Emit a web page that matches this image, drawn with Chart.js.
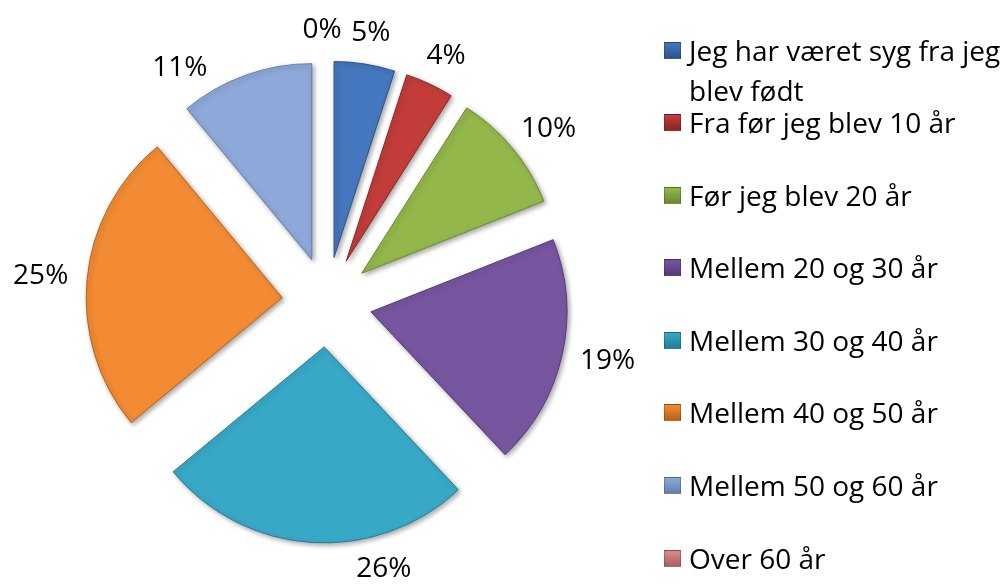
<!DOCTYPE html>
<html>
<head>
<meta charset="utf-8">
<script src="https://cdn.jsdelivr.net/npm/chart.js@4.4.1/dist/chart.umd.min.js"></script>
<style>
  html, body { margin: 0; padding: 0; background: #fff; }
  #wrap { position: relative; width: 1006px; height: 586px; overflow: hidden; }
  #pie { position: absolute; left: 0; top: 0; }
  #legend { position: absolute; left: 0; top: 0; font-family: "Open Sans", sans-serif; font-size: 28px; color: #000; }
  .item { position: absolute; left: 664px; width: 342px; display: flex; align-items: flex-start; line-height: 40px; }
  .box { flex: 0 0 17px; width: 17px; height: 17px; margin-top: 12px; margin-right: 8px; box-sizing: border-box; border: 1px solid rgba(0,0,0,0.2); }
  .txt { width: 316px; }
</style>
</head>
<body>
<div id="wrap">
  <canvas id="pie" width="1006" height="586"></canvas>
  <div id="legend"></div>
</div>
<script>
// data
const categories = [
  "Jeg har været syg fra jeg blev født",
  "Fra før jeg blev 10 år",
  "Før jeg blev 20 år",
  "Mellem 20 og 30 år",
  "Mellem 30 og 40 år",
  "Mellem 40 og 50 år",
  "Mellem 50 og 60 år",
  "Over 60 år"
];
const percents = [5, 4, 10, 19, 26, 25, 11, 0];

// farver (Excel 2007 look)
const fillColors = ["#4477bd", "#c23d3a", "#93b74b", "#7756a0", "#38a8c7", "#f28b33", "#8ea9d9", "#d98b8b"];
const edgeColors = ["#2d5489", "#8a2624", "#6a8a2e", "#553a7a", "#237d97", "#b86217", "#6480b0", "#a85f5f"];

// flytter et par etiketter som Excel gør (grader)
const labelNudge = [0, 0, 0, 0, -15, 0, -11, -1];

const fontFamily = '"Open Sans", sans-serif';
const EXPLODE = 45; // px hvert stykke trækkes ud

// chart.js sin egen offset krymper stykkerne, saa vi flytter dem selv
const baseArcDraw = Chart.ArcElement.prototype.draw;
Chart.ArcElement.prototype.draw = function (ctx) {
  const half = (this.startAngle + this.endAngle) / 2;
  ctx.save();
  ctx.translate(Math.cos(half) * EXPLODE, Math.sin(half) * EXPLODE);
  baseArcDraw.call(this, ctx);
  ctx.restore();
};

const shadowPlugin = {
  id: 'shadow',
  beforeDatasetDraw(chart) {
    const ctx = chart.ctx;
    ctx.save();
    ctx.shadowColor = 'rgba(0,0,0,0.35)';
    ctx.shadowBlur = 5;
    ctx.shadowOffsetX = 2;
    ctx.shadowOffsetY = 2;
  },
  afterDatasetDraw(chart) {
    chart.ctx.restore();
  }
};

const pctLabels = {
  id: 'pctLabels',
  afterDatasetsDraw(chart) {
    const ctx = chart.ctx;
    const meta = chart.getDatasetMeta(0);
    ctx.save();
    ctx.font = '28px ' + fontFamily;
    ctx.fillStyle = '#000';
    ctx.textAlign = 'center';
    ctx.textBaseline = 'middle';
    meta.data.forEach((arc, i) => {
      const p = arc.getProps(['x', 'y', 'startAngle', 'endAngle', 'outerRadius'], true);
      const mid = (p.startAngle + p.endAngle) / 2 + labelNudge[i] * Math.PI / 180;
      const txt = percents[i] + '%';
      const w = ctx.measureText(txt).width;
      const h = 24;
      const dist = p.outerRadius + EXPLODE + 19;
      const ax = p.x + Math.cos(mid) * dist;
      const ay = p.y + Math.sin(mid) * dist;
      ctx.fillText(txt, ax + Math.cos(mid) * w / 2, ay + Math.sin(mid) * h / 2);
    });
    ctx.restore();
  }
};

const ctx = document.getElementById('pie').getContext('2d');
const myChart = new Chart(ctx, {
  type: 'pie',
  data: {
    labels: categories,
    datasets: [{
      data: percents,
      backgroundColor: fillColors,
      borderColor: edgeColors,
      borderWidth: percents.map(v => v === 0 ? 0 : 1),
      offset: 0,
      hoverOffset: 0,
      clip: false
    }]
  },
  options: {
    responsive: false,
    devicePixelRatio: 1,
    animation: false,
    radius: 196,
    layout: { padding: { left: 0, right: 352, top: 18, bottom: 0 } },
    plugins: {
      legend: { display: false },
      tooltip: { enabled: false }
    }
  },
  plugins: [shadowPlugin, pctLabels]
});

// legende til højre
const legend = document.getElementById('legend');
categories.forEach((name, i) => {
  const center = i === 0 ? 50 : 122 + (i - 1) * 72.6;
  const item = document.createElement('div');
  item.className = 'item';
  item.style.top = (center - 20) + 'px';
  item.innerHTML = `<div class="box" style="background:linear-gradient(${fillColors[i]}, ${edgeColors[i]})"></div><div class="txt">${name}</div>`;
  legend.appendChild(item);
});
</script>
</body>
</html>
